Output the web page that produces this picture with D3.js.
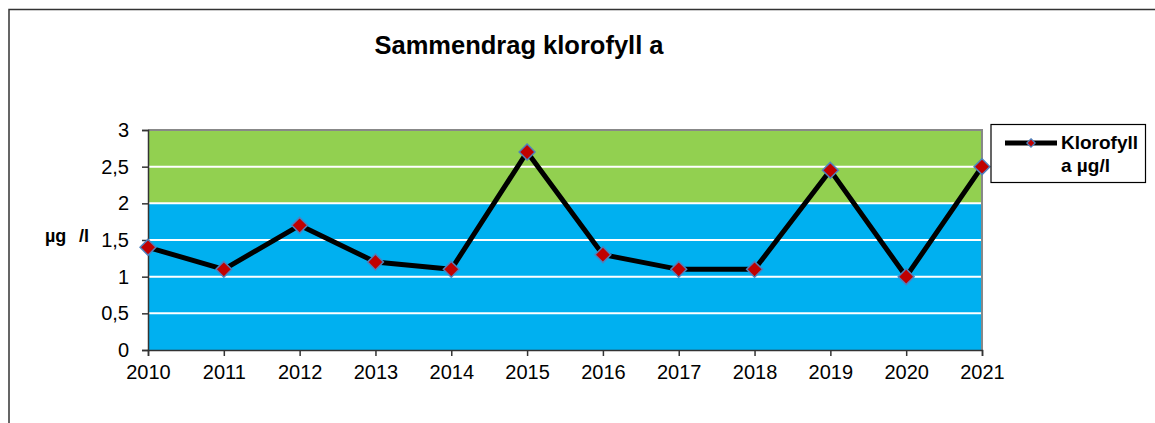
<!DOCTYPE html>
<html><head><meta charset="utf-8">
<script src="https://cdn.jsdelivr.net/npm/d3@7"></script>
<style>body{margin:0;background:#fff;}svg{display:block;font-family:Arial,"Liberation Sans",sans-serif;}</style>
</head><body>
<script>
const years = ["2010","2011","2012","2013","2014","2015","2016","2017","2018","2019","2020","2021"];
const klorofyll = [1.4, 1.1, 1.7, 1.2, 1.1, 2.7, 1.3, 1.1, 1.1, 2.45, 1.0, 2.5];
const yTicks = [0, 0.5, 1, 1.5, 2, 2.5, 3];
const bands = [{from:0,to:2,color:"#00b0f0"},{from:2,to:3,color:"#92d050"}];
const title = "Sammendrag klorofyll a";
const yLabelParts = ["µg", "/l"];
const legendLines = ["Klorofyll","a µg/l"];

const W=1155,H=423;
const FF="Arial,'Liberation Sans',sans-serif";
const svg=d3.select("body").append("svg").attr("width",W).attr("height",H);
svg.append("rect").attr("x",9).attr("y",9.5).attr("width",1200).attr("height",500).attr("fill","#fff").attr("stroke","#333").attr("stroke-width",1.5);

const L=148,R=982,T=130,B=350;
const x=d3.scalePoint().domain(years).range([L,R]);
const y=d3.scaleLinear().domain([0,3]).range([B,T]);

bands.forEach(b=>svg.append("rect").attr("x",L).attr("width",R-L).attr("y",y(b.to)).attr("height",y(b.from)-y(b.to)).attr("fill",b.color));
svg.append("g").selectAll("line").data(yTicks.filter(v=>v>0&&v<3)).join("line")
  .attr("x1",L).attr("x2",R).attr("y1",d=>y(d)).attr("y2",d=>y(d)).attr("stroke","#fff").attr("stroke-width",2);
svg.append("path").attr("d",`M${L},${T}H${R}V${B}`).attr("fill","none").attr("stroke","#888").attr("stroke-width",2);

const fmt=d=>String(d).replace(".",",");
const ya=svg.append("g").attr("transform",`translate(${L},0)`).call(d3.axisLeft(y).tickValues(yTicks).tickFormat(fmt).tickSize(6).tickPadding(13));
ya.selectAll("text").attr("font-size",20).attr("fill","#000").attr("font-family",FF);
ya.selectAll("line,path").attr("stroke","#333").attr("stroke-width",1.5);

const xa=svg.append("g").attr("transform",`translate(0,${B})`).call(d3.axisBottom(x).tickSize(6).tickPadding(9));
xa.selectAll("text").attr("font-size",20).attr("fill","#000").attr("font-family",FF);
xa.selectAll("line,path").attr("stroke","#333").attr("stroke-width",1.5);

const line=d3.line().x((d,i)=>x(years[i])).y(d=>y(d));
svg.append("path").datum(klorofyll).attr("d",line).attr("fill","none").attr("stroke","#000").attr("stroke-width",5).attr("stroke-linejoin","round");
const sym=d3.symbol().type(d3.symbolDiamond2).size(160);
svg.append("g").selectAll("path").data(klorofyll).join("path")
  .attr("transform",(d,i)=>`translate(${x(years[i])},${y(d)})`).attr("d",sym)
  .attr("fill","#c00000").attr("stroke","#4f81bd").attr("stroke-width",1.5);

svg.append("text").attr("x",519).attr("y",54).attr("text-anchor","middle").attr("font-size",25.5).attr("font-weight","bold").text(title);
svg.append("text").attr("x",45).attr("y",242).attr("font-size",18).attr("font-weight","bold").text(yLabelParts[0]);
svg.append("text").attr("x",79).attr("y",242).attr("font-size",18).attr("font-weight","bold").text(yLabelParts[1]);

const lg=svg.append("g");
lg.append("rect").attr("x",991).attr("y",124.5).attr("width",154.5).attr("height",58).attr("fill","#fff").attr("stroke","#000").attr("stroke-width",1.2);
lg.append("line").attr("x1",1005).attr("x2",1057).attr("y1",143).attr("y2",143).attr("stroke","#000").attr("stroke-width",5);
lg.append("path").attr("transform","translate(1031,143)").attr("d",d3.symbol().type(d3.symbolDiamond2).size(45)).attr("fill","#c00000").attr("stroke","#4f81bd").attr("stroke-width",1.2);
legendLines.forEach((t,i)=>lg.append("text").attr("x",1061).attr("y",149+i*23).attr("font-size",19).attr("font-weight","bold").text(t));
</script>
</body></html>
